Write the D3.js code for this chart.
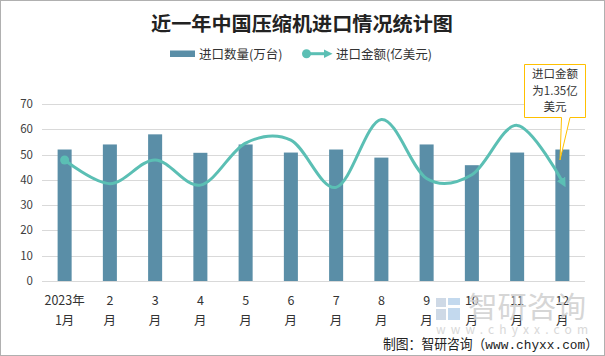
<!DOCTYPE html>
<html><head><meta charset="utf-8">
<script src="https://cdn.jsdelivr.net/npm/d3@7/dist/d3.min.js"></script>
<style>html,body{margin:0;padding:0;background:#fff;}svg{display:block;font-family:"Noto Sans CJK SC","Microsoft YaHei",sans-serif;}</style>
</head><body>
<svg id="c" width="605" height="356"></svg>
<script>
const months = ["2023年|1月","2|月","3|月","4|月","5|月","6|月","7|月","8|月","9|月","10|月","11|月","12|月"];
const quantity = [52, 54, 58, 50.7, 54, 50.8, 52, 48.8, 54, 45.8, 50.8, 52];       // 进口数量(万台)
const amount = [1.64, 1.32, 1.64, 1.30, 1.87, 1.91, 1.27, 2.19, 1.39, 1.44, 2.11, 1.35]; // 进口金额(亿美元)
const yTicks = [0, 10, 20, 30, 40, 50, 60, 70];

const svg = d3.select("#c");
const barColor = "#5a8ea7", lineColor = "#5bbfb4";

// border
svg.append("rect").attr("x",0.5).attr("y",0.5).attr("width",604).attr("height",355)
  .attr("fill","#fff").attr("stroke","#b0b0b0");

const x = d3.scaleBand().domain(months).range([42, 585]).paddingInner(0.69).paddingOuter(0.345);
const y = d3.scaleLinear().domain([0, 70]).range([281, 104]);
const y2 = d3.scaleLinear().domain([0, 2.4]).range([281, 104]);

// title
svg.append("text").attr("x",302).attr("y",31).attr("text-anchor","middle")
  .attr("font-size",19.5).attr("font-weight","bold").attr("fill","#222")
  .attr("textLength",302).attr("lengthAdjust","spacingAndGlyphs")
  .text("近一年中国压缩机进口情况统计图");

// legend
svg.append("rect").attr("x",170).attr("y",50.5).attr("width",25).attr("height",6.5).attr("fill",barColor);
svg.append("text").attr("x",199).attr("y",58.5).attr("font-size",12.5).attr("fill","#333").text("进口数量(万台)");
svg.append("line").attr("x1",306).attr("x2",326).attr("y1",53.7).attr("y2",53.7).attr("stroke",lineColor).attr("stroke-width",3);
svg.append("circle").attr("cx",306.5).attr("cy",53.7).attr("r",4.5).attr("fill",lineColor);
svg.append("path").attr("d","M324,49.5 L332.5,53.7 L324,57.9 Z").attr("fill",lineColor);
svg.append("text").attr("x",336).attr("y",58.5).attr("font-size",12.5).attr("fill","#333").text("进口金额(亿美元)");

// grid
const g = svg.append("g");
g.selectAll("line.grid").data(yTicks).join("line")
  .attr("x1",42).attr("x2",585).attr("y1",d=>Math.round(y(d))+0.5).attr("y2",d=>Math.round(y(d))+0.5)
  .attr("stroke","#d9d9d9").attr("stroke-width",1);

// y axis labels
g.selectAll("text.yl").data(yTicks).join("text")
  .attr("x",33).attr("y",d=>y(d)+4).attr("text-anchor","end")
  .attr("font-size",11.5).attr("fill","#404040").text(d=>d);

// watermark
const wm = svg.append("g").attr("opacity",0.85);
wm.append("rect").attr("x",436).attr("y",298).attr("width",10).attr("height",9).attr("fill","#c6d3e2");
wm.append("rect").attr("x",436).attr("y",309).attr("width",10).attr("height",11).attr("fill","#c6d3e2");
wm.append("rect").attr("x",448).attr("y",298).attr("width",12).attr("height",7).attr("fill","#b9d3ec");
wm.append("rect").attr("x",448).attr("y",308).attr("width",12).attr("height",12).attr("fill","#b9d3ec");
wm.append("text").attr("x",468).attr("y",318).attr("font-size",29).attr("fill","#cfcfcf")
  .attr("textLength",118).attr("lengthAdjust","spacingAndGlyphs").text("智研咨询");
wm.append("text").attr("x",436).attr("y",334).attr("font-size",12).attr("fill","#d3d3d3")
  .attr("textLength",152).attr("lengthAdjust","spacing").text("www.chyxx.com");

// bars
g.selectAll("rect.bar").data(quantity).join("rect")
  .attr("x",(d,i)=>x(months[i])).attr("width",x.bandwidth())
  .attr("y",d=>y(d)).attr("height",d=>y(0)-y(d)).attr("fill",barColor);

// line
const defs = svg.append("defs");
defs.append("marker").attr("id","arr").attr("viewBox","0 0 10 10").attr("refX",3).attr("refY",5)
  .attr("markerWidth",3.2).attr("markerHeight",3.2).attr("orient","auto").attr("markerUnits","strokeWidth")
  .append("path").attr("d","M0,0 L10,5 L0,10 Z").attr("fill",lineColor);
const pts = amount.map((v,i)=>[x(months[i])+x.bandwidth()/2, y2(v)]);
g.append("path").attr("d",d3.line().curve(d3.curveCardinal.tension(0))(pts))
  .attr("fill","none").attr("stroke",lineColor).attr("stroke-width",3).attr("marker-end","url(#arr)");
g.append("circle").attr("cx",pts[0][0]).attr("cy",pts[0][1]).attr("r",4.5).attr("fill",lineColor);

// x labels
months.forEach((m,i)=>{
  const [a,b] = m.split("|");
  const cx = x(m)+x.bandwidth()/2;
  g.append("text").attr("x",cx).attr("y",305).attr("text-anchor","middle").attr("font-size",12.5).attr("fill","#333").text(a);
  g.append("text").attr("x",cx).attr("y",325).attr("text-anchor","middle").attr("font-size",12.5).attr("fill","#333").text(b);
});

// annotation callout
const ann = svg.append("g");
ann.append("path").attr("d","M524.5,64.5 H585.5 V117.5 H570 L560,160 L561.5,117.5 H524.5 Z")
  .attr("fill","#fff").attr("stroke","#ffc000").attr("stroke-width",1);
["进口金额","为1.35亿","美元"].forEach((t,i)=>{
  ann.append("text").attr("x",555).attr("y",78+i*16.5).attr("text-anchor","middle")
    .attr("font-size",11.5).attr("fill","#333").text(t);
});

// footer
svg.append("text").attr("x",383).attr("y",348.5).attr("font-size",13.5).attr("fill","#222")
  .attr("textLength",215).attr("lengthAdjust","spacingAndGlyphs")
  .attr("font-family","'Liberation Mono','Noto Sans CJK SC',monospace")
  .text("制图：智研咨询（www.chyxx.com）");
</script>
</body></html>
